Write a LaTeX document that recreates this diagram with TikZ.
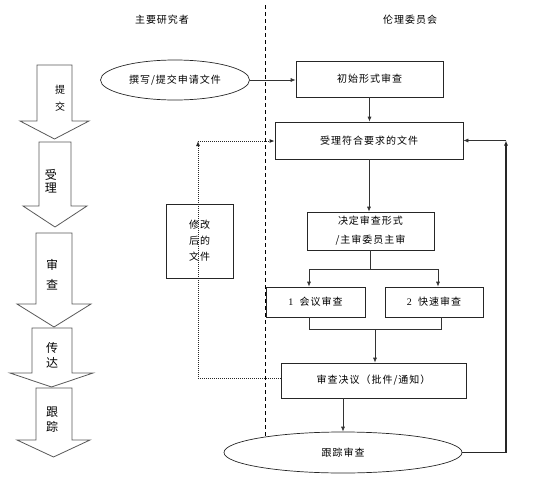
\documentclass[tikz,border=0pt]{standalone}
\usepackage{fontspec}
\setmainfont{Noto Sans CJK SC}
\newfontfamily\cjk{Noto Sans CJK SC}[LetterSpace=10]
\newfontfamily\digitfont{Liberation Serif}
\usetikzlibrary{shapes.geometric,arrows.meta}
\begin{document}
\begin{tikzpicture}[x=1pt,y=-1pt,
  every node/.style={font=\cjk\fontsize{10}{12}\selectfont, inner sep=0pt, align=center},
  box/.style={draw=black!85, line width=0.7pt, fill=white, rectangle},
  openbox/.style={draw=black!85, line width=0.7pt, rectangle},
  oval/.style={draw=black!85, line width=0.7pt, fill=white, ellipse},
  blockarrow/.style={draw=black!65, line width=0.8pt, fill=white},
  conn/.style={draw=black!80, line width=0.7pt},
  tip/.style={-{Latex[length=5pt,width=4pt]}},
  fb/.style={draw=black!85, line width=1.3pt},
  dots/.style={draw=black!85, line width=1pt, dash pattern=on 1pt off 1pt},
  bigtxt/.style={font=\cjk\fontsize{12}{#1}\selectfont}]
\useasboundingbox (0,0) rectangle (550,485);

% divider
\draw[black, line width=0.8pt, dash pattern=on 4pt off 3pt] (265,5) -- (265,445);

% titles
\node (t1) at (162,20) {主要研究者};
\node (t2) at (410,20) {伦理委员会};

% block arrows (left)
\draw[blockarrow] (37,65) -- (72,65) -- (72,121) -- (89,121) -- (54.5,139) -- (20,121) -- (37,121) -- cycle;
\draw[blockarrow] (39,142) -- (71,142) -- (71,206) -- (87,206) -- (55,227) -- (23,206) -- (39,206) -- cycle;
\draw[blockarrow] (36,233) -- (72,233) -- (72,304) -- (91,304) -- (54,327) -- (17,304) -- (36,304) -- cycle;
\draw[blockarrow] (32,328) -- (72,328) -- (72,373) -- (93,373) -- (51.5,387) -- (10,373) -- (32,373) -- cycle;
\draw[blockarrow] (36,388) -- (72,388) -- (72,440) -- (90,440) -- (53.5,457) -- (17,440) -- (36,440) -- cycle;
\node[font=\cjk\fontsize{10}{17}\selectfont] (a1) at (60,98.5) {提\\交};
\node[bigtxt=13] (a2) at (51,181) {受\\理};
\node[bigtxt=20] (a3) at (52,275) {审\\查};
\node[bigtxt=15] (a4) at (52,355) {传\\达};
\node[bigtxt=15] (a5) at (52,420) {跟\\踪};

% flow nodes
\node[oval, minimum width=149pt, minimum height=40pt] (e1) at (175,80) {撰写/提交申请文件};
\node[box, minimum width=147pt, minimum height=36pt] (b1) at (369.5,79) {初始形式审查};
\node[box, minimum width=188pt, minimum height=37pt] (b2) at (369,140.5) {受理符合要求的文件};
\node[box, minimum width=127pt, minimum height=38pt, font=\cjk\fontsize{10}{19}\selectfont] (b3) at (370.5,231) {决定审查形式\\/主审委员主审};
\node[box, minimum width=99pt, minimum height=30pt] (b4) at (315.5,302) {{\digitfont 1}\ \ 会议审查};
\node[box, minimum width=98pt, minimum height=30pt] (b5) at (434,302) {{\digitfont 2}\ \ 快速审查};
\node[box, minimum width=185pt, minimum height=35pt] (b6) at (373.5,380.5) {审查决议（批件/通知）};
\node[oval, minimum width=238pt, minimum height=41pt] (e2) at (343,452.5) {跟踪审查};
\node[openbox, minimum width=67pt, minimum height=74pt, font=\cjk\fontsize{10}{16}\selectfont] (b7) at (199.5,241) {修改\\后的\\文件};

% coordinates
\coordinate (sL) at (309,269);
\coordinate (sR) at (438,269);
\coordinate (jL) at (309,329);
\coordinate (jR) at (441,329);
\coordinate (jM) at (375,329);
\coordinate (r1) at (506,452.5);
\coordinate (r2) at (506,140.5);
\coordinate (l1) at (198,378);
\coordinate (l2) at (198,141);

% connectors
\draw[conn,tip] (e1.east) -- (e1.east -| b1.west);
\draw[conn,tip] (b1.south) -- (b1.south |- b2.north);
\draw[conn,tip] (b2.south) -- (b2.south |- b3.north);
\draw[conn] (b3.south) -- (b3.south |- sL);
\draw[conn] (sL) -- (sR);
\draw[conn,tip] (sL) -- (sL |- b4.north);
\draw[conn,tip] (sR) -- (sR |- b5.north);
\draw[conn] (jL |- b4.south) -- (jL) -- (jR) -- (jR |- b5.south);
\draw[conn,tip] (jM) -- (jM |- b6.north);
\draw[conn,tip] (b6.south -| e2.north) -- (e2.north);
\draw[fb,tip] (e2.east) -- (r1) -- (r2);
\draw[conn,tip] (r2) -- (b2.east);
\draw[dots,tip] (l1 -| b6.west) -- (l1) -- (l2);
\draw[dots,tip] (l2) -- (l2 -| b2.west);
\end{tikzpicture}
\end{document}
